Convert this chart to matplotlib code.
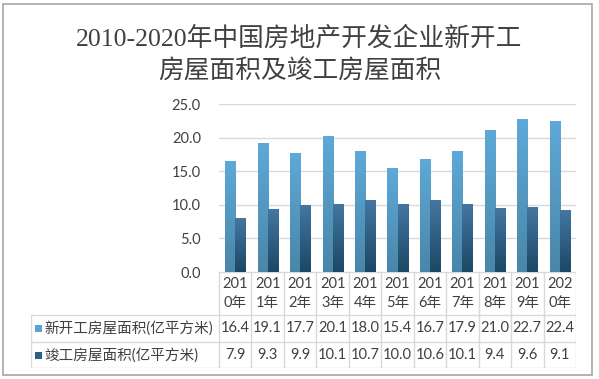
import numpy as np
import matplotlib
matplotlib.use("Agg")
import matplotlib.pyplot as plt
from matplotlib.colors import LinearSegmentedColormap
from matplotlib.patches import Rectangle

# data
years = ["2010", "2011", "2012", "2013", "2014", "2015", "2016", "2017", "2018", "2019", "2020"]
new_start = [16.4, 19.1, 17.7, 20.1, 18.0, 15.4, 16.7, 17.9, 21.0, 22.7, 22.4]
completed = [7.9, 9.3, 9.9, 10.1, 10.7, 10.0, 10.6, 10.1, 9.4, 9.6, 9.1]
series_names = ["新开工房屋面积(亿平方米)", "竣工房屋面积(亿平方米)"]
title = "2010-2020年中国房地产开发企业新开工\n房屋面积及竣工房屋面积"
yticks = [0, 5, 10, 15, 20, 25]

W, H = 599, 379
text_font = ["Lato", "Noto Sans CJK SC"]
title_font = ["Liberation Serif", "Noto Sans CJK SC"]
txt_color = "#404040"
grid_color = "#d9d9d9"

light_cmap = LinearSegmentedColormap.from_list("light", ["#4a86a8", "#5ea9d8"])
dark_cmap = LinearSegmentedColormap.from_list("dark", ["#1b4865", "#4476a0"])
light_solid, dark_solid = "#5aa2cf", "#2f5f82"

fig = plt.figure(figsize=(W / 100, H / 100), dpi=100)
fig.patch.set_facecolor("white")

# outer frame of the chart
fig.add_artist(Rectangle((3 / W, 1 - 375 / H), 589 / W, 371 / H, transform=fig.transFigure,
                         fill=False, edgecolor="#a6a6a6", linewidth=1.2))

fig.text(0.5, 1 - 55 / H, title, ha="center", va="center", fontsize=18.5,
         family=title_font, color=txt_color, linespacing=1.45)

# plot area in pixels
px_left, px_right, px_zero, px_top = 219, 576, 272, 104
ax = fig.add_axes([px_left / W, 1 - px_zero / H, (px_right - px_left) / W, (px_zero - px_top) / H])
n = len(years)
x = np.arange(n)
bw = 0.31

grad = np.linspace(0, 1, 100).reshape(-1, 1)
for xi, v1, v2 in zip(x, new_start, completed):
    for left, val, cmap in [(xi - bw, v1, light_cmap), (xi, v2, dark_cmap)]:
        ax.imshow(grad, extent=[left, left + bw, 0, val], origin="lower", aspect="auto",
                  cmap=cmap, zorder=3, interpolation="bilinear")

ax.set_xlim(-0.5, n - 0.5)
ax.set_ylim(0, 25)
ax.set_yticks(yticks)
ax.set_yticklabels([f"{t:.1f}" for t in yticks], family=text_font, fontsize=10.5, color=txt_color)
ax.set_xticks([])
ax.tick_params(axis="y", length=0, pad=13)
ax.grid(axis="y", color=grid_color, linewidth=1)
ax.set_axisbelow(True)
for s in ax.spines.values():
    s.set_visible(False)

# data table beneath the plot
colw = (px_right - px_left) / n
tab_left, tab_bottom = 31, 368
tab = fig.add_axes([tab_left / W, 1 - tab_bottom / H, (px_right - tab_left) / W, (tab_bottom - px_zero) / H])
x0 = -0.5 - (px_left - tab_left) / colw
tab.set_xlim(x0, n - 0.5)
tab.set_ylim(tab_bottom - px_zero, 0)
tab.axis("off")
r1, r2 = 43, 70  # row boundaries in pixels below the axis

lc = dict(color=grid_color, linewidth=1)
tab.plot([-0.5, n - 0.5], [0, 0], **lc)
for y in [r1, r2, tab_bottom - px_zero]:
    tab.plot([x0, n - 0.5], [y, y], **lc)
tab.plot([x0, x0], [r1, tab_bottom - px_zero], **lc)
for i in range(n + 1):
    tab.plot([i - 0.5, i - 0.5], [0, tab_bottom - px_zero], **lc)

for i, yr in enumerate(years):
    tab.text(i, r1 / 2, yr[:3] + "\n" + yr[3:] + "年", ha="center", va="center",
             fontsize=10.5, family=text_font, color=txt_color, linespacing=1.5)
    tab.text(i, (r1 + r2) / 2, f"{new_start[i]:.1f}", ha="center", va="center",
             fontsize=10.5, family=text_font, color=txt_color)
    tab.text(i, (r2 + tab_bottom - px_zero) / 2, f"{completed[i]:.1f}", ha="center", va="center",
             fontsize=10.5, family=text_font, color=txt_color)

sq = 7 / colw
for (ya, yb), name, col in [((r1, r2), series_names[0], light_solid),
                            ((r2, tab_bottom - px_zero), series_names[1], dark_solid)]:
    yc = (ya + yb) / 2
    tab.add_patch(Rectangle((x0 + 4 / colw, yc - 3.5), sq, 7, facecolor=col, edgecolor="none"))
    tab.text(x0 + 13 / colw, yc, name, ha="left", va="center", fontsize=10.5,
             family=text_font, color=txt_color)

fig.savefig("out.png", dpi=100)
